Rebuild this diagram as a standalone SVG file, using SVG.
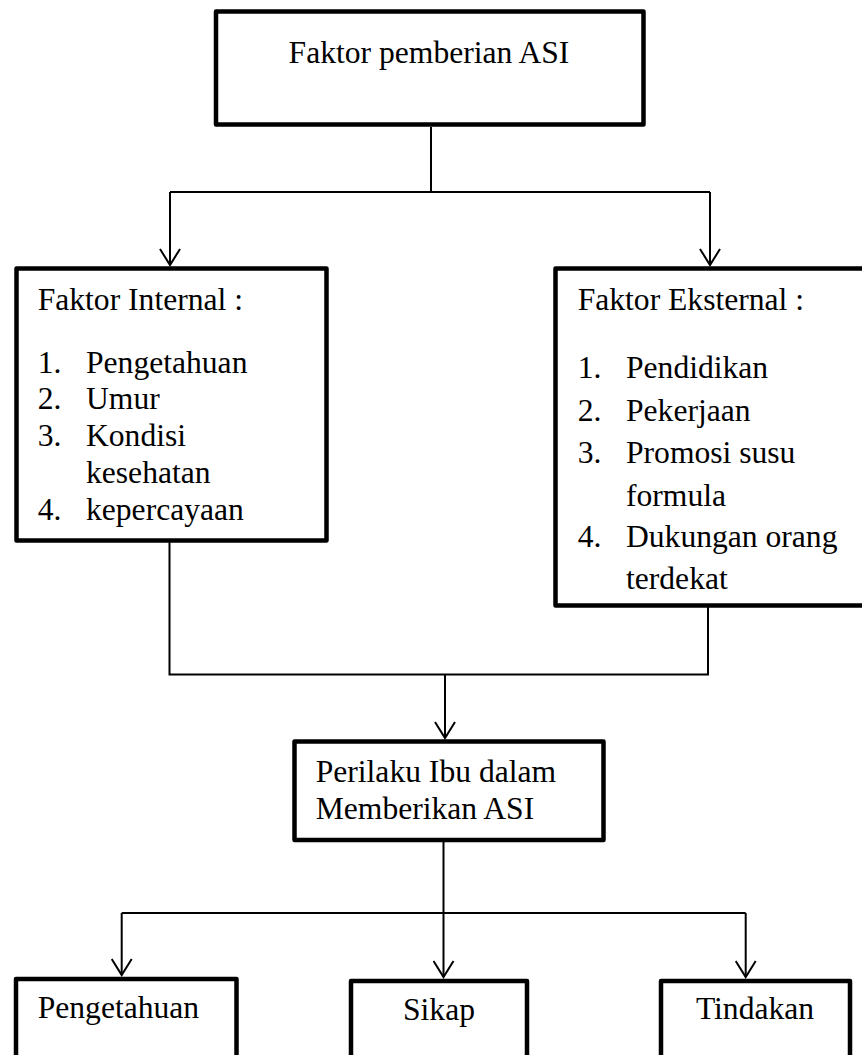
<svg xmlns="http://www.w3.org/2000/svg" width="862" height="1055" viewBox="0 0 862 1055">
<style>
.box{fill:#fff;stroke:#000;stroke-width:4.5;stroke-linejoin:round}
.t{font-family:"Liberation Serif","Times New Roman",serif;font-size:31.6px;fill:#000}
.c{fill:none;stroke:#000;stroke-width:2}
</style>
<defs>
<marker id="arr" viewBox="0 0 20 22" markerWidth="20" markerHeight="22" refX="17" refY="11" orient="auto" markerUnits="userSpaceOnUse">
<path d="M1,1 L17,11 L1,21" fill="none" stroke="#000" stroke-width="2"/>
</marker>
</defs>
<rect width="862" height="1055" fill="#fff"/>
<g id="connectors">
<path class="c" d="M431,127 V192"/>
<path class="c" d="M170,192 H710"/>
<path class="c" d="M170,192 V265" marker-end="url(#arr)"/>
<path class="c" d="M710,192 V265" marker-end="url(#arr)"/>
<path class="c" d="M169.5,542 V674.5 H708 V607"/>
<path class="c" d="M445,674.5 V738" marker-end="url(#arr)"/>
<path class="c" d="M443.5,842 V913"/>
<path class="c" d="M121.7,913 H745.7"/>
<path class="c" d="M121.7,913 V975" marker-end="url(#arr)"/>
<path class="c" d="M443.5,913 V977" marker-end="url(#arr)"/>
<path class="c" d="M745.7,913 V977" marker-end="url(#arr)"/>
</g>
<g id="node-top">
<rect class="box" x="216" y="11.5" width="427.5" height="113"/>
<text class="t" x="429" y="63.3" text-anchor="middle">Faktor pemberian ASI</text>
</g>
<g id="node-internal">
<rect class="box" x="16.5" y="268.5" width="310" height="272"/>
<text class="t" x="37.7" y="310">Faktor Internal :</text>
<text class="t" x="37.7" y="372.7">1.</text><text class="t" x="86" y="372.7">Pengetahuan</text>
<text class="t" x="37.7" y="409">2.</text><text class="t" x="86" y="409">Umur</text>
<text class="t" x="37.7" y="445.5">3.</text><text class="t" x="86" y="445.5">Kondisi</text>
<text class="t" x="86" y="482.5">kesehatan</text>
<text class="t" x="37.7" y="519.5">4.</text><text class="t" x="86" y="519.5">kepercayaan</text>
</g>
<g id="node-eksternal">
<rect class="box" x="555.5" y="268.5" width="312" height="337"/>
<text class="t" x="577.7" y="310">Faktor Eksternal :</text>
<text class="t" x="577.7" y="378.3">1.</text><text class="t" x="626" y="378.3">Pendidikan</text>
<text class="t" x="577.7" y="421">2.</text><text class="t" x="626" y="421">Pekerjaan</text>
<text class="t" x="577.7" y="463">3.</text><text class="t" x="626" y="463">Promosi susu</text>
<text class="t" x="626" y="505.5">formula</text>
<text class="t" x="577.7" y="547">4.</text><text class="t" x="626" y="547">Dukungan orang</text>
<text class="t" x="626" y="589">terdekat</text>
</g>
<g id="node-perilaku">
<rect class="box" x="294.5" y="741.5" width="309" height="98.5"/>
<text class="t" x="315.7" y="782.3">Perilaku Ibu dalam</text>
<text class="t" x="315.7" y="819">Memberikan ASI</text>
</g>
<g id="node-pengetahuan">
<rect class="box" x="16" y="979" width="220.5" height="90"/>
<text class="t" x="37.7" y="1018">Pengetahuan</text>
</g>
<g id="node-sikap">
<rect class="box" x="351" y="981" width="176" height="90"/>
<text class="t" x="439" y="1020" text-anchor="middle">Sikap</text>
</g>
<g id="node-tindakan">
<rect class="box" x="661" y="981" width="189" height="90"/>
<text class="t" x="755" y="1019.3" text-anchor="middle">Tindakan</text>
</g>
</svg>
